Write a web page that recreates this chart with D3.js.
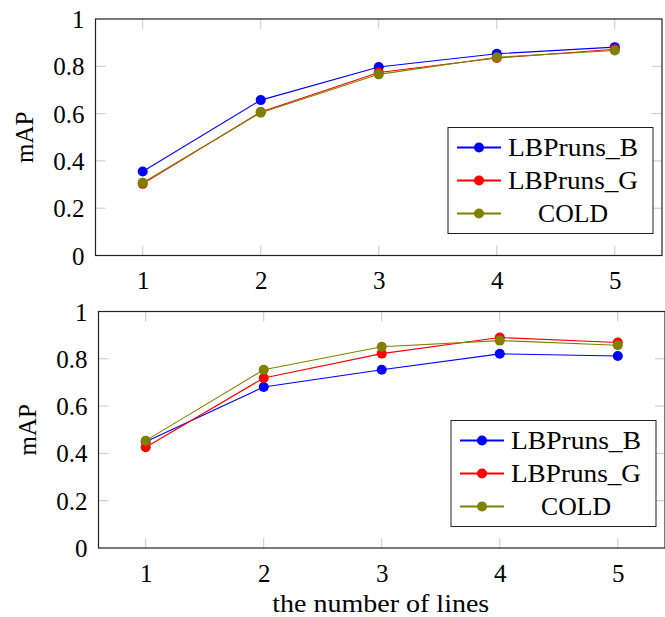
<!DOCTYPE html>
<html>
<head>
<meta charset="utf-8">
<script src="https://cdn.jsdelivr.net/npm/d3@7"></script>
<style>
  html, body { margin: 0; padding: 0; background: #fff; }
  svg text { font-family: "Liberation Serif", "Times New Roman", serif; fill: #000; }
</style>
</head>
<body>
<svg id="chart" width="665" height="617"></svg>
<script>
// ---- data ----
const xValues = [1, 2, 3, 4, 5];
const yTicks = [0, 0.2, 0.4, 0.6, 0.8, 1];
const seriesNames = ["LBPruns_B", "LBPruns_G", "COLD"];
const seriesColors = ["#0000ff", "#ff0000", "#808000"];

// top panel
const topB    = [0.355, 0.657, 0.797, 0.853, 0.881];
const topG    = [0.303, 0.607, 0.774, 0.835, 0.872];
const topCOLD = [0.308, 0.604, 0.766, 0.838, 0.867];

// bottom panel
const botB    = [0.449, 0.681, 0.754, 0.821, 0.812];
const botG    = [0.426, 0.719, 0.822, 0.890, 0.869];
const botCOLD = [0.454, 0.754, 0.851, 0.877, 0.857];

const xLabel = "the number of lines";
const yLabel = "mAP";

const svg = d3.select("#chart");
const FS = 25;

function panel(opts) {
  const { left, right, top, bottom, series, showXLabel, legend } = opts;
  const g = svg.append("g");
  const x = d3.scaleLinear().domain([0.6, 5.4]).range([left, right]);
  const y = d3.scaleLinear().domain([0, 1]).range([bottom, top]);

  // tick marks (inside, gray, on all four sides)
  const tickLen = 10, tickColor = "#c8c8c8";
  xValues.forEach(v => {
    g.append("line").attr("x1", x(v)).attr("x2", x(v)).attr("y1", bottom).attr("y2", bottom - tickLen)
      .attr("stroke", tickColor).attr("stroke-width", 1);
    g.append("line").attr("x1", x(v)).attr("x2", x(v)).attr("y1", top).attr("y2", top + tickLen)
      .attr("stroke", tickColor).attr("stroke-width", 1);
  });
  yTicks.forEach(v => {
    if (v === 0 || v === 1) return;
    g.append("line").attr("x1", left).attr("x2", left + tickLen).attr("y1", y(v)).attr("y2", y(v))
      .attr("stroke", tickColor).attr("stroke-width", 1);
    g.append("line").attr("x1", right).attr("x2", right - tickLen).attr("y1", y(v)).attr("y2", y(v))
      .attr("stroke", tickColor).attr("stroke-width", 1);
  });

  // axis labels via d3 axes (tick lines hidden, just labels)
  const xAxis = d3.axisBottom(x).tickValues(xValues).tickFormat(d3.format("d")).tickSize(0).tickPadding(0);
  const xa = g.append("g").attr("transform", `translate(0,${bottom + 25})`).call(xAxis);
  xa.select(".domain").remove();
  xa.selectAll("text").attr("font-size", FS).attr("dy", null).attr("dominant-baseline", "central")
    .style("font-family", "Liberation Serif, serif").attr("fill", "#000");

  const yAxis = d3.axisLeft(y).tickValues(yTicks).tickFormat(d => d === 0 || d === 1 ? d3.format("d")(d) : d3.format(".1f")(d))
    .tickSize(0).tickPadding(0);
  const ya = g.append("g").attr("transform", `translate(${left - 11},0)`).call(yAxis);
  ya.select(".domain").remove();
  ya.selectAll("text").attr("font-size", FS).attr("dy", null).attr("dominant-baseline", "central")
    .style("font-family", "Liberation Serif, serif").attr("fill", "#000");

  // y label
  g.append("text").attr("transform", `translate(${left - 71},${(top + bottom) / 2}) rotate(-90)`)
    .attr("text-anchor", "middle").attr("dominant-baseline", "central").attr("font-size", FS).text(yLabel);

  // lines & markers
  const line = d3.line().x((d, i) => x(xValues[i])).y(d => y(d));
  series.forEach((vals, si) => {
    g.append("path").datum(vals).attr("d", line).attr("fill", "none")
      .attr("stroke", seriesColors[si]).attr("stroke-width", 1.1);
    g.selectAll(null).data(vals).enter().append("circle")
      .attr("cx", (d, i) => x(xValues[i])).attr("cy", d => y(d)).attr("r", 5)
      .attr("fill", seriesColors[si]);
  });

  // frame
  g.append("rect").attr("x", left).attr("y", top).attr("width", right - left).attr("height", bottom - top)
    .attr("fill", "none").attr("stroke", "#222").attr("stroke-width", 1.2);

  // legend
  const lg = g.append("g").attr("transform", `translate(${legend.x},${legend.y})`);
  lg.append("rect").attr("x", 0).attr("y", 0).attr("width", 205).attr("height", 106)
    .attr("fill", "#fff").attr("stroke", "#222").attr("stroke-width", 1);
  const rowY = [20, 53, 86];
  seriesNames.forEach((name, i) => {
    lg.append("line").attr("x1", 9).attr("x2", 53).attr("y1", rowY[i]).attr("y2", rowY[i])
      .attr("stroke", seriesColors[i]).attr("stroke-width", 2);
    lg.append("circle").attr("cx", 31).attr("cy", rowY[i]).attr("r", 5).attr("fill", seriesColors[i]);
    const t = lg.append("text").attr("x", 125).attr("y", rowY[i]).attr("text-anchor", "middle")
      .attr("dominant-baseline", "central").attr("font-size", FS).text(name);
    t.attr("textLength", name === "COLD" ? 70 : 130).attr("lengthAdjust", "spacingAndGlyphs");
  });

  if (showXLabel) {
    g.append("text").attr("x", (left + right) / 2 - 1).attr("y", bottom + 64).attr("text-anchor", "middle")
      .attr("font-size", FS)
      .attr("textLength", 217).attr("lengthAdjust", "spacingAndGlyphs").text(xLabel);
  }
}

panel({ left: 95.5, right: 662, top: 19, bottom: 255.5,
        series: [topB, topG, topCOLD], showXLabel: false, legend: { x: 448, y: 127.5 } });
panel({ left: 98.5, right: 665, top: 311.5, bottom: 548,
        series: [botB, botG, botCOLD], showXLabel: true, legend: { x: 451, y: 420.5 } });
</script>
</body>
</html>
